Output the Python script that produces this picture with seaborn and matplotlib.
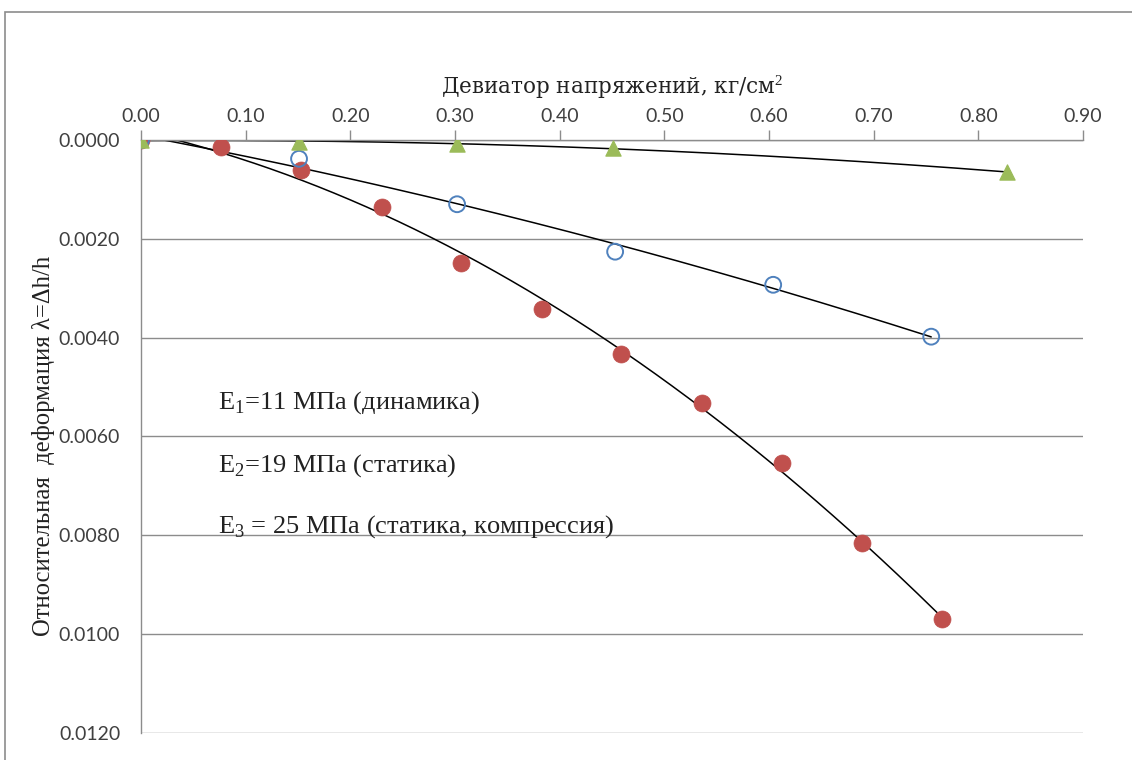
import numpy as np
import pandas as pd
import seaborn as sns
import matplotlib.pyplot as plt
from matplotlib.patches import Rectangle

plt.switch_backend('Agg')

# E3 - static, compression (red dots)
red_x = [0.0, 0.0765, 0.153, 0.23, 0.306, 0.383, 0.459, 0.536, 0.612, 0.689, 0.765]
red_y = [0.0, 0.00014, 0.0006, 0.00135, 0.00248, 0.00343, 0.00434, 0.00533, 0.00653, 0.00816, 0.0097]

# E2 - static (blue open circles)
blue_x = [0.0, 0.151, 0.302, 0.453, 0.604, 0.755]
blue_y = [0.0, 0.00038, 0.0013, 0.00226, 0.00293, 0.00398]

# E1 - dynamic (green triangles)
green_x = [0.0, 0.151, 0.302, 0.451, 0.827]
green_y = [0.0, 0.00004, 0.00008, 0.00016, 0.00065]

x_ticks = [0.0, 0.1, 0.2, 0.3, 0.4, 0.5, 0.6, 0.7, 0.8, 0.9]
y_ticks = [0.0, 0.002, 0.004, 0.006, 0.008, 0.010, 0.012]

notes = ["E$_1$=11 МПа (динамика)",
         "E$_2$=19 МПа (статика)",
         "E$_3$ = 25 МПа (статика, компрессия)"]
note_y = [0.00532, 0.00658, 0.00783]

sns.set_style("white")
plt.rcParams['font.family'] = ['Lato', 'DejaVu Sans']
plt.rcParams['mathtext.fontset'] = 'custom'
plt.rcParams['mathtext.rm'] = 'Liberation Serif'

fig = plt.figure(figsize=(11.32, 7.6), dpi=100)
ax = fig.add_axes([141 / 1132, 1 - 733 / 760, (1083 - 141) / 1132, (733 - 140) / 760])

# outer chart frame
fig.patches.append(Rectangle((5 / 1132, -0.05), 1.1, 1 - 12 / 760 + 0.05,
                             transform=fig.transFigure, fill=False,
                             edgecolor='#8c8c8c', linewidth=1.2))


def trend(xs, ys, deg=2):
    coef = np.polyfit(xs, ys, deg)
    xx = np.linspace(0, max(xs), 200)
    return pd.DataFrame({"x": xx, "y": np.polyval(coef, xx)})


for xs, ys in [(red_x, red_y), (blue_x, blue_y), (green_x, green_y)]:
    sns.lineplot(data=trend(xs, ys), x="x", y="y", ax=ax, color='black',
                 linewidth=1.1, zorder=2)

sns.scatterplot(x=red_x, y=red_y, ax=ax, color='#C0504D', s=150,
                edgecolor='#C0504D', linewidth=0.5, zorder=3)
sns.scatterplot(x=blue_x, y=blue_y, ax=ax, facecolor='none', s=130,
                edgecolor='#4F81BD', linewidth=1.4, zorder=3)
sns.scatterplot(x=green_x, y=green_y, ax=ax, color='#9BBB59', marker='^',
                s=120, edgecolor='#9BBB59', zorder=3)

ax.set_xlim(0, 0.9)
ax.set_ylim(0.012, 0)
ax.set_xticks(x_ticks)
ax.set_yticks(y_ticks)
ax.xaxis.tick_top()
ax.xaxis.set_label_position('top')
ax.set_xticklabels([f"{v:.2f}" for v in x_ticks])
ax.set_yticklabels([f"{v:.4f}" for v in y_ticks])
ax.tick_params(axis='both', direction='out', length=7, width=1,
               color='#8c8c8c', labelsize=14, labelcolor='#404040', pad=8)
ax.tick_params(axis='x', pad=4)

ax.grid(axis='y', color='#8c8c8c', linewidth=1)
ax.grid(axis='x', visible=False)
for side in ['right', 'bottom']:
    ax.spines[side].set_visible(False)
for side in ['left', 'top']:
    ax.spines[side].set_color('#8c8c8c')
    ax.spines[side].set_linewidth(1)

serif = ['Liberation Serif', 'DejaVu Serif']
ax.set_xlabel("Девиатор напряжений, кг/см$^2$", family=['DejaVu Serif'], fontsize=15.5,
              color='#222222', labelpad=10)
ax.set_ylabel("")
ax.text(-0.103, 0.485, "Относительная  деформация λ=Δh/h", transform=ax.transAxes,
        family=serif, fontsize=17.7, color='#222222', rotation=90,
        ha='center', va='center')

for text, y in zip(notes, note_y):
    ax.text(0.0736, y, text, family=serif, fontsize=19, color='#222222',
            va='center', ha='left')

fig.savefig("out.png", dpi=100)
